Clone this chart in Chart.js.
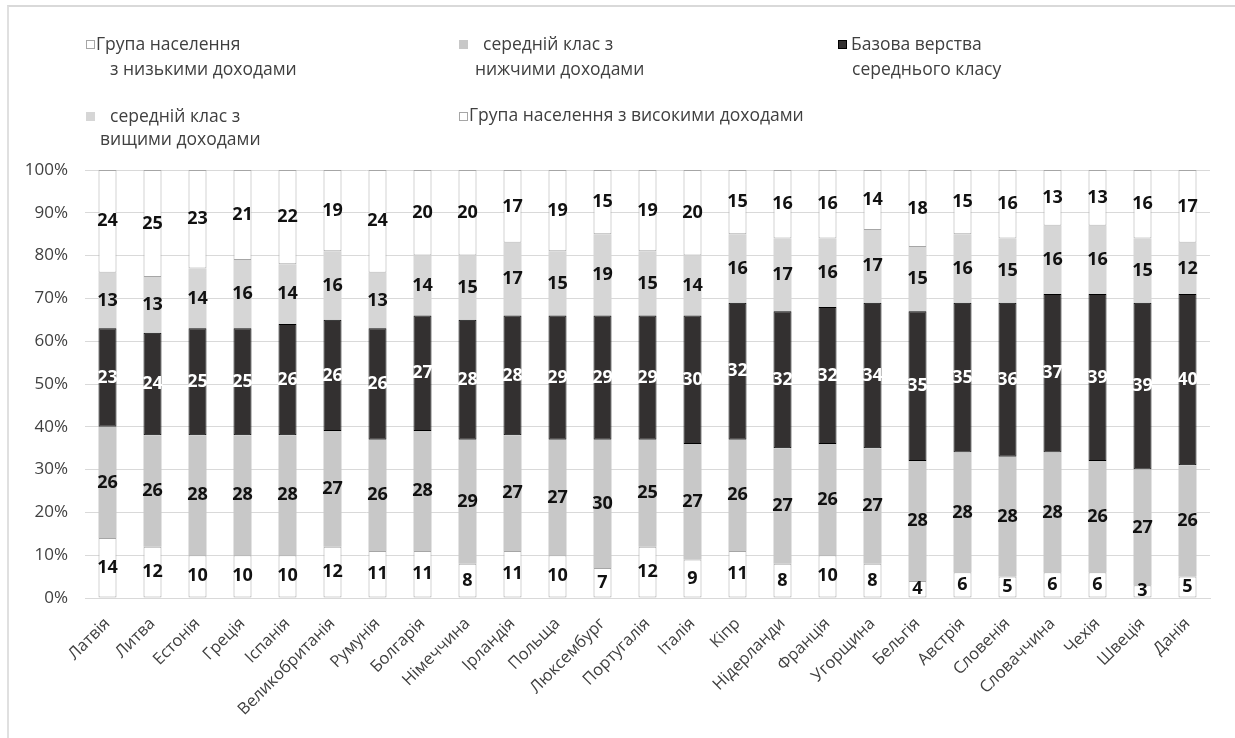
<!DOCTYPE html>
<html>
<head>
<meta charset="utf-8">
<script src="https://cdn.jsdelivr.net/npm/chart.js@4.4.1/dist/chart.umd.min.js"></script>
<style>
	html, body { margin: 0; padding: 0; background: #fff; }
	#wrap { position: relative; width: 1235px; height: 738px; }
	#frame { position: absolute; left: 7px; top: 5px; right: 0; bottom: 0; border-top: 2px solid #d9d9d9; border-left: 2px solid #e0e0e0; pointer-events: none; }
</style>
</head>
<body>
<div id="wrap">
	<canvas id="bar-chart" width="1235" height="738"></canvas>
	<div id="frame"></div>
</div>
<script>
const countries = ['Латвія', 'Литва', 'Естонія', 'Греція', 'Іспанія', 'Великобританія', 'Румунія', 'Болгарія', 'Німеччина', 'Ірландія', 'Польща', 'Люксембург', 'Португалія', 'Італія', 'Кіпр', 'Нідерланди', 'Франція', 'Угорщина', 'Бельгія', 'Австрія', 'Словенія', 'Словаччина', 'Чехія', 'Швеція', 'Данія'];

const lowIncome = [14, 12, 10, 10, 10, 12, 11, 11, 8, 11, 10, 7, 12, 9, 11, 8, 10, 8, 4, 6, 5, 6, 6, 3, 5];
const lowerMiddle = [26, 26, 28, 28, 28, 27, 26, 28, 29, 27, 27, 30, 25, 27, 26, 27, 26, 27, 28, 28, 28, 28, 26, 27, 26];
const baseMiddle = [23, 24, 25, 25, 26, 26, 26, 27, 28, 28, 29, 29, 29, 30, 32, 32, 32, 34, 35, 35, 36, 37, 39, 39, 40];
const upperMiddle = [13, 13, 14, 16, 14, 16, 13, 14, 15, 17, 15, 19, 15, 14, 16, 17, 16, 17, 15, 16, 15, 16, 16, 15, 12];
const highIncome = [24, 25, 23, 21, 22, 19, 24, 20, 20, 17, 19, 15, 19, 20, 15, 16, 16, 14, 18, 15, 16, 13, 13, 16, 17];

const seriesNames = [
	['Група населення', 'з низькими доходами'],
	['середній клас з', 'нижчими доходами'],
	['Базова верства', 'середнього класу'],
	['середній клас з', 'вищими доходами'],
	['Група населення з високими доходами']
];
const yTicks = ['0%', '10%', '20%', '30%', '40%', '50%', '60%', '70%', '80%', '90%', '100%'];

const textFont = '"Open Sans", sans-serif';

// legend placement (box x, y, then text lines [x, y])
const legendPos = [
	{ box: [86, 40], lines: [[96, 45], [110, 70]] },
	{ box: [459, 40], lines: [[483, 45], [475, 70]] },
	{ box: [838, 40], lines: [[851, 45], [852, 70]] },
	{ box: [86, 112], lines: [[110, 117], [100, 140]] },
	{ box: [459, 112], lines: [[469, 116]] }
];

const legendPlugin = {
	id: 'customLegend',
	afterDraw(chart) {
		const c = chart.ctx;
		c.save();
		chart.data.datasets.forEach(function (ds, i) {
			const p = legendPos[i];
			c.fillStyle = ds.backgroundColor;
			c.fillRect(p.box[0], p.box[1], 9, 9);
			if (ds.borderWidth) {
				c.strokeStyle = ds.borderColor;
				c.lineWidth = 1;
				c.strokeRect(p.box[0] + 0.5, p.box[1] + 0.5, 8, 8);
			}
			c.fillStyle = '#404040';
			c.font = '17.5px ' + textFont;
			c.textAlign = 'left';
			c.textBaseline = 'middle';
			seriesNames[i].forEach(function (t, j) {
				c.fillText(t, p.lines[j][0], p.lines[j][1]);
			});
		});
		c.restore();
	}
};

const valuePlugin = {
	id: 'valueLabels',
	afterDatasetsDraw(chart) {
		const c = chart.ctx;
		c.save();
		c.font = 'bold 18px ' + textFont;
		c.textAlign = 'center';
		c.textBaseline = 'middle';
		chart.data.datasets.forEach(function (ds, i) {
			const meta = chart.getDatasetMeta(i);
			meta.data.forEach(function (bar, k) {
				c.fillStyle = i === 2 ? '#ffffff' : '#111111';
				c.fillText(ds.data[k], bar.x, (bar.y + bar.base) / 2);
			});
		});
		c.restore();
	}
};

const ctx = document.querySelector('#bar-chart');

new Chart(ctx, {
	type: 'bar',
	data: {
		labels: countries,
		datasets: [
			{ label: seriesNames[0].join(' '), data: lowIncome, backgroundColor: '#ffffff', borderColor: '#a6a6a6', borderWidth: 1, borderSkipped: false },
			{ label: seriesNames[1].join(' '), data: lowerMiddle, backgroundColor: '#c8c8c8', borderColor: '#c8c8c8', borderWidth: 0 },
			{ label: seriesNames[2].join(' '), data: baseMiddle, backgroundColor: '#333030', borderColor: '#000000', borderWidth: 1, borderSkipped: false },
			{ label: seriesNames[3].join(' '), data: upperMiddle, backgroundColor: '#d6d6d6', borderColor: '#d6d6d6', borderWidth: 0 },
			{ label: seriesNames[4], data: highIncome, backgroundColor: '#ffffff', borderColor: '#a6a6a6', borderWidth: 1, borderSkipped: false }
		]
	},
	options: {
		responsive: false,
		animation: false,
		maintainAspectRatio: false,
		layout: {
			padding: { top: 170, right: 25, left: 0, bottom: 0 }
		},
		datasets: {
			bar: { barPercentage: 0.8, categoryPercentage: 0.5 }
		},
		plugins: {
			legend: { display: false },
			tooltip: { enabled: false }
		},
		scales: {
			x: {
				stacked: true,
				afterFit(scale) { scale.height = 140; },
				grid: { display: false },
				border: { color: '#d9d9d9' },
				ticks: {
					color: '#404040',
					font: { size: 16.5, family: textFont },
					maxRotation: 45,
					minRotation: 45,
					padding: 8
				}
			},
			y: {
				stacked: true,
				min: 0,
				max: 100,
				afterFit(scale) { scale.width = 85; },
				grid: { color: '#d9d9d9', drawTicks: false },
				border: { display: false },
				ticks: {
					stepSize: 10,
					color: '#404040',
					padding: 17,
					font: { size: 17, family: textFont },
					callback: function (v) { return yTicks[Math.round(v / 10)]; }
				}
			}
		}
	},
	plugins: [legendPlugin, valuePlugin]
});
</script>
</body>
</html>
